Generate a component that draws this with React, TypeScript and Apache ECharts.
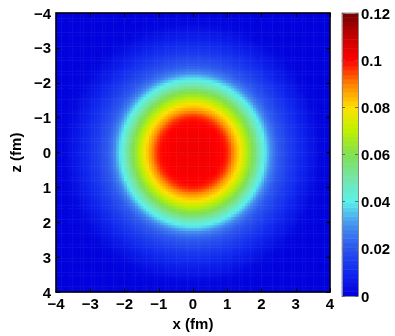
import React, { useEffect, useRef } from "react";
import * as echarts from "echarts";

// Axis extents (fm) and ticks
const AXIS_MIN = -4;
const AXIS_MAX = 4;
const AXIS_STEP = 1;
const COLORBAR_MIN = 0;
const COLORBAR_MAX = 0.12;
const COLORBAR_STEP = 0.02;
const COLORBAR_LEVELS = 64;

// Radial density profile (r in fm, rho)
const PROFILE_R = [
  0.0, 0.1, 0.2, 0.3, 0.4, 0.5, 0.6, 0.7, 0.8, 0.9, 1.0, 1.1, 1.2, 1.3, 1.4,
  1.5, 1.6, 1.7, 1.8, 1.9, 2.0, 2.1, 2.2, 2.3, 2.4, 2.5, 2.6, 2.7, 2.8, 2.9,
  3.0, 3.1, 3.2, 3.3, 3.4, 3.5, 3.6, 3.7, 3.8, 3.9, 4.0, 4.5, 5.0, 5.7,
];
const PROFILE_RHO = [
  0.102, 0.102, 0.102, 0.102, 0.102, 0.1015, 0.1012, 0.1008, 0.1003, 0.0995,
  0.0975, 0.0935, 0.088, 0.0835, 0.079, 0.073, 0.067, 0.062, 0.057, 0.051,
  0.045, 0.04, 0.034, 0.028, 0.024, 0.021, 0.019, 0.017, 0.015, 0.0135,
  0.012, 0.0105, 0.009, 0.0075, 0.0062, 0.005, 0.0035, 0.0021, 0.0016,
  0.0012, 0.001, 0.0006, 0.0003, 0.0,
];

// Colormap stops, evenly spaced from 0 to 0.12
const COLORMAP = [
  "#0000dc", "#1028ee", "#2a54ee", "#4690f0", "#5af0ec", "#74e6a8",
  "#80e050", "#bcf000", "#ffe000", "#ff8000", "#ff0000", "#c40000", "#760000",
];

const GRID_N = 100;

function rhoAt(r: number): number {
  const n = PROFILE_R.length;
  if (r >= PROFILE_R[n - 1]) return PROFILE_RHO[n - 1];
  for (let i = 0; i < n - 1; i++) {
    if (r < PROFILE_R[i + 1]) {
      const t = (r - PROFILE_R[i]) / (PROFILE_R[i + 1] - PROFILE_R[i]);
      return PROFILE_RHO[i] + t * (PROFILE_RHO[i + 1] - PROFILE_RHO[i]);
    }
  }
  return 0;
}

const FONT = "Liberation Sans";
const fmt = (v: number) => String(v).replace("-", "\u2212");

export default function App() {
  const ref = useRef<HTMLDivElement>(null);
  useEffect(() => {
    if (!ref.current) return;
    const chart = echarts.init(ref.current, null, { renderer: "svg" });
    const step = (AXIS_MAX - AXIS_MIN) / GRID_N;
    const cats: string[] = [];
    for (let i = 0; i < GRID_N; i++) cats.push(String(i));
    const data: number[][] = [];
    for (let i = 0; i < GRID_N; i++) {
      const x = AXIS_MIN + (i + 0.5) * step;
      for (let j = 0; j < GRID_N; j++) {
        const z = AXIS_MIN + (j + 0.5) * step;
        data.push([i, j, rhoAt(Math.sqrt(x * x + z * z))]);
      }
    }
    const cbCats: string[] = [];
    const cbData: number[][] = [];
    for (let k = 0; k < COLORBAR_LEVELS; k++) {
      cbCats.push(String(k));
      cbData.push([0, k, COLORBAR_MIN + ((k + 0.5) * (COLORBAR_MAX - COLORBAR_MIN)) / COLORBAR_LEVELS]);
    }
    const labelStyle = {
      fontFamily: FONT,
      fontWeight: "bold" as const,
      fontSize: 15,
      color: "#000",
    };
    const frameLine = { show: true, onZero: false, lineStyle: { color: "#000", width: 1.5 } };
    const inTick = { show: true, inside: true, length: 4, lineStyle: { color: "#000", width: 1 } };
    const cbLine = { show: true, onZero: false, lineStyle: { color: "#888", width: 1 } };
    const cbTick = { show: true, inside: true, length: 3, lineStyle: { color: "#666", width: 1 } };
    const valueAxisBase = {
      type: "value" as const,
      min: AXIS_MIN,
      max: AXIS_MAX,
      interval: AXIS_STEP,
      splitLine: { show: false },
      z: 10,
    };
    chart.setOption({
      animation: false,
      grid: [
        { left: 45, top: 13, width: 285, height: 283 },
        { left: 342, top: 13, width: 16, height: 283 },
      ],
      visualMap: {
        type: "continuous",
        show: false,
        min: COLORBAR_MIN,
        max: COLORBAR_MAX,
        seriesIndex: [0, 1],
        inRange: { color: COLORMAP },
      },
      xAxis: [
        { type: "category", gridIndex: 0, data: cats, show: false },
        {
          ...valueAxisBase,
          gridIndex: 0,
          position: "bottom",
          axisLine: frameLine,
          axisTick: inTick,
          axisLabel: { ...labelStyle, margin: 4, formatter: fmt },
          name: "x (fm)",
          nameLocation: "middle",
          nameGap: 21,
          nameTextStyle: labelStyle,
        },
        {
          ...valueAxisBase,
          gridIndex: 0,
          position: "top",
          axisLine: frameLine,
          axisTick: inTick,
          axisLabel: { show: false },
        },
        { type: "category", gridIndex: 1, data: ["cb"], show: false },
        {
          type: "value",
          gridIndex: 1,
          position: "bottom",
          min: 0,
          max: 1,
          axisLine: cbLine,
          axisTick: { show: false },
          axisLabel: { show: false },
          splitLine: { show: false },
          z: 10,
        },
        {
          type: "value",
          gridIndex: 1,
          position: "top",
          min: 0,
          max: 1,
          axisLine: cbLine,
          axisTick: { show: false },
          axisLabel: { show: false },
          splitLine: { show: false },
          z: 10,
        },
      ],
      yAxis: [
        { type: "category", gridIndex: 0, data: cats, show: false },
        {
          ...valueAxisBase,
          gridIndex: 0,
          position: "left",
          inverse: true,
          axisLine: frameLine,
          axisTick: inTick,
          axisLabel: { ...labelStyle, margin: 5, formatter: fmt },
          name: "z (fm)",
          nameLocation: "middle",
          nameGap: 26,
          nameRotate: 90,
          nameTextStyle: labelStyle,
        },
        {
          ...valueAxisBase,
          gridIndex: 0,
          position: "right",
          inverse: true,
          axisLine: frameLine,
          axisTick: inTick,
          axisLabel: { show: false },
        },
        { type: "category", gridIndex: 1, data: cbCats, show: false },
        {
          type: "value",
          gridIndex: 1,
          position: "right",
          min: COLORBAR_MIN,
          max: COLORBAR_MAX,
          interval: COLORBAR_STEP,
          axisLine: cbLine,
          axisTick: cbTick,
          axisLabel: {
            ...labelStyle,
            margin: 3,
            formatter: (v: number) => String(Math.round(v * 100) / 100),
          },
          splitLine: { show: false },
          z: 10,
        },
        {
          type: "value",
          gridIndex: 1,
          position: "left",
          min: COLORBAR_MIN,
          max: COLORBAR_MAX,
          interval: COLORBAR_STEP,
          axisLine: cbLine,
          axisTick: cbTick,
          axisLabel: { show: false },
          splitLine: { show: false },
          z: 10,
        },
      ],
      series: [
        {
          type: "heatmap",
          xAxisIndex: 0,
          yAxisIndex: 0,
          data,
          progressive: 0,
          emphasis: { disabled: true },
          itemStyle: { borderWidth: 0 },
          silent: true,
        },
        {
          type: "heatmap",
          xAxisIndex: 3,
          yAxisIndex: 3,
          data: cbData,
          progressive: 0,
          emphasis: { disabled: true },
          itemStyle: { borderWidth: 0 },
          silent: true,
        },
      ],
    });
    return () => chart.dispose();
  }, []);
  return (
    <div
      ref={ref}
      style={{ position: "fixed", left: 0, top: 0, width: 395, height: 336 }}
    />
  );
}
